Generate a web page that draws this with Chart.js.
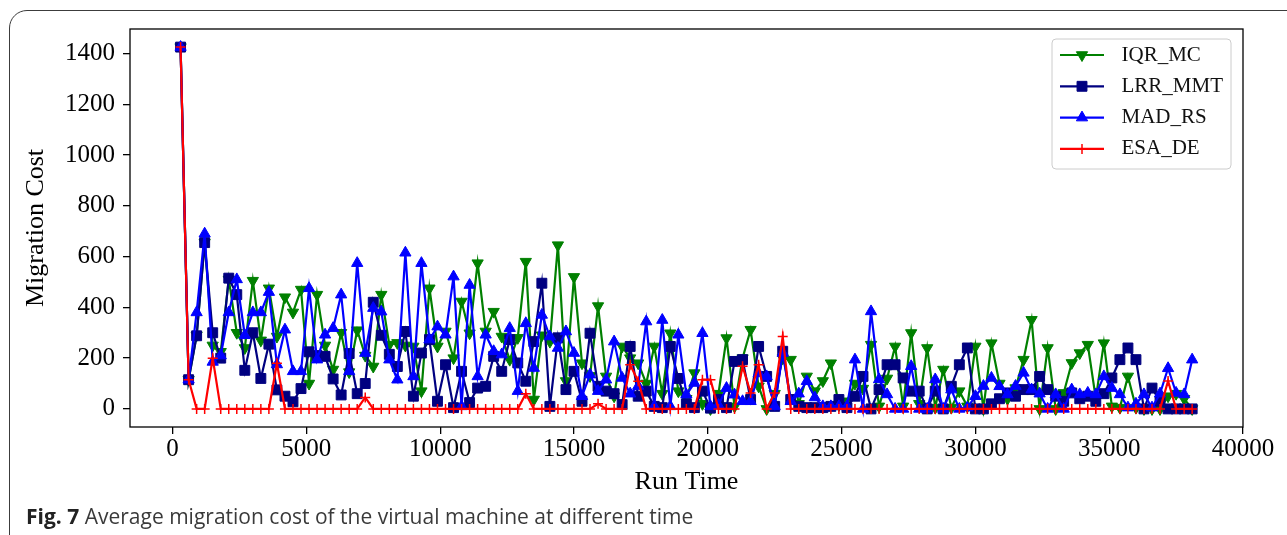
<!DOCTYPE html>
<html>
<head>
<meta charset="utf-8">
<script src="https://cdn.jsdelivr.net/npm/chart.js@4/dist/chart.umd.min.js"></script>
<style>
  html, body { margin: 0; padding: 0; background: #fff; }
  #wrap { position: relative; width: 1287px; height: 535px; overflow: hidden; }
  #frame { position: absolute; left: 9px; top: 10px; width: 1400px; height: 600px;
           border: 1.5px solid #3c3c3c; border-radius: 18px; box-sizing: border-box; }
  #chart { position: absolute; left: 0; top: 0; }
  #caption { position: absolute; left: 26px; top: 502px; line-height: 28px;
             font-family: "Open Sans", sans-serif; font-size: 21px; color: #3a3a3a; white-space: nowrap; }
  #caption b { color: #222; }
</style>
</head>
<body>
<div id="wrap">
  <div id="frame"></div>
  <canvas id="chart" width="1287" height="535"></canvas>
  <div id="caption"><b>Fig. 7</b> Average migration cost of the virtual machine at different time</div>
</div>
<script>
// sampling instants (x axis)
const runTime = [
  300, 600, 900, 1200, 1500, 1800, 2100, 2400, 2700, 3000,
  3300, 3600, 3900, 4200, 4500, 4800, 5100, 5400, 5700, 6000,
  6300, 6600, 6900, 7200, 7500, 7800, 8100, 8400, 8700, 9000,
  9300, 9600, 9900, 10200, 10500, 10800, 11100, 11400, 11700, 12000,
  12300, 12600, 12900, 13200, 13500, 13800, 14100, 14400, 14700, 15000,
  15300, 15600, 15900, 16200, 16500, 16800, 17100, 17400, 17700, 18000,
  18300, 18600, 18900, 19200, 19500, 19800, 20100, 20400, 20700, 21000,
  21300, 21600, 21900, 22200, 22500, 22800, 23100, 23400, 23700, 24000,
  24300, 24600, 24900, 25200, 25500, 25800, 26100, 26400, 26700, 27000,
  27300, 27600, 27900, 28200, 28500, 28800, 29100, 29400, 29700, 30000,
  30300, 30600, 30900, 31200, 31500, 31800, 32100, 32400, 32700, 33000,
  33300, 33600, 33900, 34200, 34500, 34800, 35100, 35400, 35700, 36000,
  36300, 36600, 36900, 37200, 37500, 37800, 38100
];

// migration cost per algorithm
const iqrMc = [
  1425, 115, 290, 655, 250, 225, 510, 300, 240, 505,
  270, 475, 285, 440, 380, 470, 100, 450, 250, 155,
  300, 145, 310, 210, 167, 450, 253, 260, 250, 246,
  70, 475, 246, 305, 200, 423, 298, 574, 305, 383,
  285, 194, 280, 580, 37, 290, 265, 645, 110, 520,
  180, 130, 405, 128, 50, 246, 200, 180, 100, 246,
  60, 298, 70, 40, 141, 20, 0, 60, 279, 10,
  200, 312, 89, 0, 60, 200, 194, 20, 128, 70,
  110, 180, 15, 30, 100, 80, 253, 10, 120, 246,
  10, 299, 20, 240, 5, 155, 5, 70, 10, 246,
  0, 259, 100, 40, 82, 194, 351, 0, 240, 0,
  63, 181, 220, 253, 40, 259, 10, 5, 128, 5,
  0, 0, 0, 50, 60, 40, 0
];
const lrrMmt = [
  1425, 115, 288, 655, 300, 200, 515, 450, 152, 300,
  120, 255, 75, 50, 28, 80, 225, 210, 207, 118,
  55, 218, 60, 100, 420, 290, 215, 167, 305, 50,
  220, 273, 30, 174, 5, 148, 25, 82, 89, 207,
  148, 273, 181, 109, 265, 495, 10, 280, 76, 148,
  30, 298, 89, 70, 60, 17, 246, 50, 70, 10,
  5, 246, 120, 20, 5, 70, 3, 37, 5, 187,
  194, 37, 246, 128, 10, 227, 37, 10, 5, 5,
  5, 10, 37, 5, 50, 128, 0, 76, 174, 174,
  122, 70, 70, 0, 70, 0, 89, 174, 240, 0,
  0, 20, 40, 63, 50, 76, 76, 128, 76, 50,
  30, 63, 40, 50, 30, 60, 122, 194, 240, 194,
  0, 82, 30, 0, 0, 0, 0
];
const madRs = [
  1425, 115, 380, 690, 185, 210, 380, 510, 290, 380,
  380, 460, 175, 312, 148, 148, 475, 194, 292, 318,
  450, 148, 574, 220, 397, 383, 194, 115, 615, 128,
  574, 273, 324, 292, 521, 10, 488, 128, 292, 227,
  214, 318, 70, 337, 161, 370, 285, 240, 305, 220,
  50, 135, 70, 115, 265, 122, 60, 90, 344, 10,
  350, 10, 292, 56, 102, 298, 10, 15, 82, 56,
  30, 30, 140, 128, 10, 220, 30, 60, 109, 45,
  10, 10, 10, 10, 194, 0, 384, 116, 57, 0,
  0, 168, 0, 0, 116, 0, 76, 0, 5, 50,
  90, 122, 89, 57, 90, 142, 76, 60, 0, 57,
  0, 76, 57, 63, 57, 128, 82, 57, 5, 20,
  57, 5, 60, 160, 63, 57, 194
];
const esaDe = [
  1425, 115, 0, 0, 200, 0, 0, 0, 0, 0,
  0, 0, 180, 0, 0, 0, 0, 0, 0, 0,
  0, 0, 0, 45, 0, 0, 0, 0, 0, 0,
  0, 0, 0, 0, 0, 0, 0, 0, 0, 0,
  0, 0, 0, 60, 0, 0, 0, 0, 0, 0,
  0, 0, 20, 0, 0, 0, 174, 109, 0, 0,
  0, 0, 0, 0, 0, 115, 115, 0, 0, 0,
  168, 63, 174, 0, 63, 285, 0, 0, 0, 0,
  0, 0, 0, 0, 0, 0, 0, 0, 0, 0,
  0, 0, 0, 0, 0, 0, 0, 0, 0, 0,
  0, 0, 0, 0, 0, 0, 0, 0, 0, 0,
  0, 0, 0, 0, 0, 0, 0, 0, 0, 0,
  0, 0, 0, 110, 0, 0, 0
];

const xTicks = [0, 5000, 10000, 15000, 20000, 25000, 30000, 35000, 40000];
const yTicks = [0, 200, 400, 600, 800, 1000, 1200, 1400];

function points(values) {
  return runTime.map((t, i) => ({ x: t, y: values[i] }));
}

function series(label, values, color, style, radius, order, rotation) {
  return {
    label: label,
    data: points(values),
    borderColor: color,
    backgroundColor: color,
    borderWidth: 2.2,
    pointStyle: style,
    pointRadius: radius,
    pointRotation: rotation || 0,
    pointBackgroundColor: color,
    pointBorderColor: color,
    pointBorderWidth: style === 'cross' ? 1.5 : 1,
    tension: 0,
    order: order
  };
}

// box round the plot area plus the legend in the upper right corner
const frameAndLegend = {
  id: 'frameAndLegend',
  afterDraw(chart) {
    const ctx = chart.ctx;
    const a = chart.chartArea;
    ctx.save();
    ctx.strokeStyle = '#000';
    ctx.lineWidth = 1.3;
    ctx.strokeRect(a.left, a.top, a.right - a.left, a.bottom - a.top);

    const bx = a.right - 191, by = a.top + 10, bw = 179, bh = 130;
    ctx.beginPath();
    ctx.roundRect(bx, by, bw, bh, 4);
    ctx.fillStyle = 'rgba(255,255,255,0.8)';
    ctx.fill();
    ctx.strokeStyle = '#cccccc';
    ctx.lineWidth = 1;
    ctx.stroke();

    chart.data.datasets.forEach((ds, k) => {
      const y = by + 16 + k * 31.3;
      ctx.strokeStyle = ds.borderColor;
      ctx.lineWidth = ds.borderWidth;
      ctx.beginPath();
      ctx.moveTo(bx + 8, y);
      ctx.lineTo(bx + 52, y);
      ctx.stroke();

      ctx.fillStyle = ds.pointBackgroundColor;
      ctx.strokeStyle = ds.pointBorderColor;
      ctx.lineWidth = ds.pointBorderWidth;
      Chart.helpers.drawPoint(ctx, {
        pointStyle: ds.pointStyle,
        rotation: ds.pointRotation,
        radius: ds.pointRadius,
        borderWidth: ds.pointBorderWidth
      }, bx + 30, y);

      ctx.fillStyle = '#111';
      ctx.font = '21px "Liberation Serif"';
      ctx.textAlign = 'left';
      ctx.textBaseline = 'middle';
      ctx.fillText(ds.label, bx + 69.5, y);
    });
    ctx.restore();
  }
};

const serif = 'Liberation Serif';

new Chart(document.getElementById('chart'), {
  type: 'line',
  data: {
    datasets: [
      series('IQR_MC', iqrMc, '#008000', 'triangle', 6.5, 4, 180),
      series('LRR_MMT', lrrMmt, '#000080', 'rect', 7, 3),
      series('MAD_RS', madRs, '#0000ff', 'triangle', 6.5, 2),
      series('ESA_DE', esaDe, '#ff0000', 'cross', 5, 1)
    ]
  },
  options: {
    responsive: false,
    animation: false,
    devicePixelRatio: 1,
    events: [],
    layout: { padding: { left: 0, top: 29, right: 44, bottom: 0 } },
    plugins: { legend: { display: false }, tooltip: { enabled: false } },
    scales: {
      x: {
        type: 'linear',
        min: -1590,
        max: 40000,
        afterBuildTicks: s => { s.ticks = xTicks.map(v => ({ value: v })); },
        afterFit: s => { s.height = 108; },
        border: { display: false },
        grid: { drawOnChartArea: false, drawTicks: true, tickLength: 7, color: '#000', lineWidth: 1.3 },
        ticks: {
          color: '#000', padding: 0.5, maxRotation: 0, autoSkip: false,
          font: { family: serif, size: 25 },
          callback: v => String(v)
        },
        title: {
          display: true, text: 'Run Time', color: '#000',
          font: { family: serif, size: 26 },
          padding: { top: 0, bottom: 37 }
        }
      },
      y: {
        min: -71.25,
        max: 1496.25,
        afterBuildTicks: s => { s.ticks = yTicks.map(v => ({ value: v })); },
        afterFit: s => { s.width = 130; },
        border: { display: false },
        grid: { drawOnChartArea: false, drawTicks: true, tickLength: 7, color: '#000', lineWidth: 1.3 },
        ticks: {
          color: '#000', padding: 8, autoSkip: false,
          font: { family: serif, size: 25 },
          callback: v => String(v)
        },
        title: {
          display: true, text: 'Migration Cost', color: '#000',
          font: { family: serif, size: 26 },
          padding: { top: 21, bottom: 0 }
        }
      }
    }
  },
  plugins: [frameAndLegend]
});
</script>
</body>
</html>
